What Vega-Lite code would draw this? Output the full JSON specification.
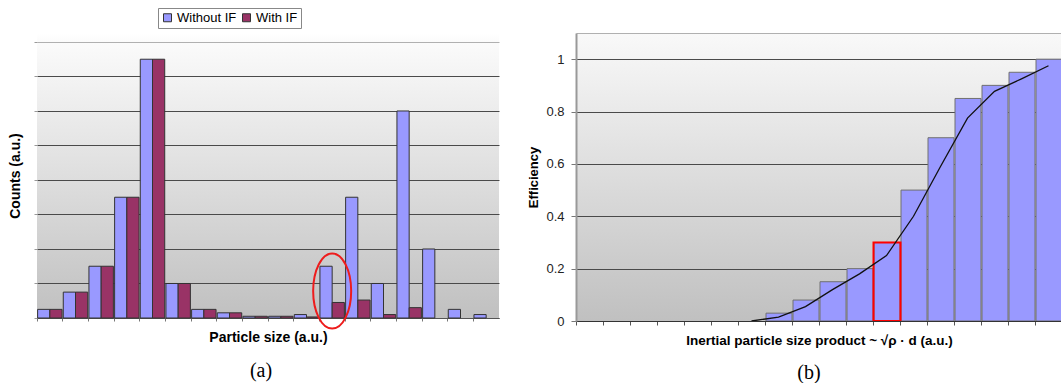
{
  "$schema": "https://vega.github.io/schema/vega-lite/v6.json",
  "padding": {"left": 8, "top": 7, "right": 0, "bottom": 0},
  "background": "white",
  "spacing": 28,
  "config": {
    "font": "Liberation Sans",
    "axis": {"titleFont": "Liberation Sans", "labelFont": "Liberation Sans", "titleFontWeight": "bold", "titleColor": "#000"}
  },
  "datasets": {
    "a": [
      {"cat": 1, "series": "Without IF", "count": 0.25}, {"cat": 1, "series": "With IF", "count": 0.25},
      {"cat": 2, "series": "Without IF", "count": 0.75}, {"cat": 2, "series": "With IF", "count": 0.75},
      {"cat": 3, "series": "Without IF", "count": 1.5}, {"cat": 3, "series": "With IF", "count": 1.5},
      {"cat": 4, "series": "Without IF", "count": 3.5}, {"cat": 4, "series": "With IF", "count": 3.5},
      {"cat": 5, "series": "Without IF", "count": 7.5}, {"cat": 5, "series": "With IF", "count": 7.5},
      {"cat": 6, "series": "Without IF", "count": 1.0}, {"cat": 6, "series": "With IF", "count": 1.0},
      {"cat": 7, "series": "Without IF", "count": 0.25}, {"cat": 7, "series": "With IF", "count": 0.25},
      {"cat": 8, "series": "Without IF", "count": 0.15}, {"cat": 8, "series": "With IF", "count": 0.15},
      {"cat": 9, "series": "Without IF", "count": 0.05}, {"cat": 9, "series": "With IF", "count": 0.05},
      {"cat": 10, "series": "Without IF", "count": 0.05}, {"cat": 10, "series": "With IF", "count": 0.05},
      {"cat": 11, "series": "Without IF", "count": 0.1}, {"cat": 11, "series": "With IF", "count": 0.03},
      {"cat": 12, "series": "Without IF", "count": 1.5}, {"cat": 12, "series": "With IF", "count": 0.45},
      {"cat": 13, "series": "Without IF", "count": 3.5}, {"cat": 13, "series": "With IF", "count": 0.52},
      {"cat": 14, "series": "Without IF", "count": 1.0}, {"cat": 14, "series": "With IF", "count": 0.1},
      {"cat": 15, "series": "Without IF", "count": 6.0}, {"cat": 15, "series": "With IF", "count": 0.3},
      {"cat": 16, "series": "Without IF", "count": 2.0},
      {"cat": 17, "series": "Without IF", "count": 0.25},
      {"cat": 18, "series": "Without IF", "count": 0.1}
    ],
    "ell": [{"cat": 12, "count": 0.78}],
    "b": [
      {"size": 7.5, "eff": 0.03}, {"size": 8.5, "eff": 0.08}, {"size": 9.5, "eff": 0.15},
      {"size": 10.5, "eff": 0.2}, {"size": 11.5, "eff": 0.3}, {"size": 12.5, "eff": 0.5},
      {"size": 13.5, "eff": 0.7}, {"size": 14.5, "eff": 0.85}, {"size": 15.5, "eff": 0.9},
      {"size": 16.5, "eff": 0.95}, {"size": 17.5, "eff": 1.0}
    ],
    "hl": [{"size": 11.5, "eff": 0.3}],
    "bline": [
      {"size": 6.5, "eff": 0.0}, {"size": 7.5, "eff": 0.015}, {"size": 8.5, "eff": 0.055},
      {"size": 9.5, "eff": 0.12}, {"size": 10.5, "eff": 0.18}, {"size": 11.5, "eff": 0.25},
      {"size": 12.5, "eff": 0.4}, {"size": 13.5, "eff": 0.59}, {"size": 14.5, "eff": 0.775},
      {"size": 15.5, "eff": 0.877}, {"size": 16.5, "eff": 0.925}, {"size": 17.5, "eff": 0.975}
    ]
  },
  "hconcat": [
    {
      "width": 462,
      "height": 285,
      "view": {
        "fill": {"gradient": "linear", "x1": 0, "y1": 0, "x2": 0, "y2": 1, "stops": [{"offset": 0, "color": "#ffffff"}, {"offset": 0.03, "color": "#fbfbfb"}, {"offset": 1, "color": "#c0c0c0"}]},
        "stroke": null
      },
      "title": {"text": "(a)", "orient": "bottom", "font": "Liberation Serif", "fontSize": 20, "fontWeight": "normal", "color": "#000", "offset": 16, "dx": -7, "anchor": "middle"},
      "encoding": {
        "x": {
          "field": "cat", "type": "ordinal",
          "scale": {"type": "band", "paddingInner": 0, "paddingOuter": 0},
          "axis": {"labels": false, "bandPosition": 0, "tickSize": 3, "tickColor": "#777", "domainColor": "#555", "title": "Particle size (a.u.)", "titleFontSize": 14, "titlePadding": 9}
        },
        "y": {
          "field": "count", "type": "quantitative",
          "scale": {"domain": [0, 8.26], "nice": false},
          "axis": {
            "values": [0, 1, 2, 3, 4, 5, 6, 7, 8], "tickCount": 20, "labels": false,
            "title": "Counts (a.u.)", "titleFontSize": 14, "titlePadding": 11,
            "grid": true,
            "gridColor": {"condition": {"test": "datum.value >= 8", "value": "#b0b0b0"}, "value": "#4a4a4a"},
            "tickColor": "#999", "tickSize": 3, "domain": false
          }
        }
      },
      "layer": [
        {
          "data": {"name": "a"},
          "mark": {"type": "bar", "stroke": "#333", "strokeWidth": 1},
          "encoding": {
            "xOffset": {"field": "series", "type": "nominal", "sort": ["Without IF", "With IF"], "scale": {"paddingInner": 0, "paddingOuter": 0.05}},
            "color": {
              "field": "series", "type": "nominal",
              "scale": {"domain": ["Without IF", "With IF"], "range": ["#9999ff", "#993366"]},
              "legend": {
                "orient": "none", "legendX": 121, "legendY": -25, "direction": "horizontal", "columns": 2, "title": null,
                "strokeColor": "#888", "fillColor": "#fff", "padding": 3,
                "labelFontSize": 13, "labelFont": "Liberation Sans", "labelColor": "#000",
                "symbolType": "square", "symbolSize": 64, "symbolStrokeColor": "#333", "symbolStrokeWidth": 1,
                "columnPadding": 3, "labelOffset": 3
              }
            }
          }
        },
        {
          "data": {"name": "ell"},
          "mark": {"type": "point", "shape": "M -0.507 0 A 0.507 1 0 1 1 0.507 0 A 0.507 1 0 1 1 -0.507 0 Z", "size": 5625, "filled": false, "stroke": "#ee1c1c", "strokeWidth": 2, "opacity": 1}
        },
        {
          "mark": {"type": "rule", "color": "#b0b0b0", "strokeWidth": 1},
          "encoding": {
            "x": {"datum": 18, "type": "ordinal", "bandPosition": 1},
            "y": {"datum": 0, "type": "quantitative"},
            "y2": {"datum": 8}
          }
        },
        {
          "mark": {"type": "rule", "color": "#999", "strokeWidth": 2},
          "encoding": {
            "x": {"datum": 1, "type": "ordinal", "bandPosition": 0},
            "y": {"datum": 0, "type": "quantitative"},
            "y2": {"datum": 8}
          }
        }
      ]
    },
    {
      "width": 486,
      "height": 288,
      "view": {
        "fill": {"gradient": "linear", "x1": 0, "y1": 0, "x2": 0, "y2": 1, "stops": [{"offset": 0, "color": "#f9f9f9"}, {"offset": 1, "color": "#c0c0c0"}]},
        "stroke": null
      },
      "title": {"text": "(b)", "orient": "bottom", "font": "Liberation Serif", "fontSize": 20, "fontWeight": "normal", "color": "#000", "offset": 16, "dx": -10, "anchor": "middle"},
      "encoding": {
        "y": {
          "field": "eff", "type": "quantitative",
          "scale": {"domain": [0, 1.1]},
          "axis": {
            "values": [0, 0.2, 0.4, 0.6, 0.8, 1, 1.1], "tickCount": 20, "format": "~g",
            "labelExpr": "datum.value > 1.05 ? '' : datum.label",
            "labelFontSize": 13, "labelColor": "#222", "labelPadding": 7,
            "tickSize": 5,
            "tickColor": {"condition": {"test": "datum.value > 1.05", "value": "transparent"}, "value": "#777"},
            "grid": true,
            "gridColor": {"condition": {"test": "datum.value > 1.05", "value": "#b0b0b0"}, "value": "#4a4a4a"},
            "domainColor": "#999", "domainWidth": 2,
            "title": "Efficiency", "titleFontSize": 13, "titlePadding": 5
          }
        }
      },
      "layer": [
        {
          "data": {"name": "b"},
          "mark": {"type": "bar", "color": "#9999ff", "stroke": "#707070", "strokeWidth": 1, "clip": true, "binSpacing": 1},
          "encoding": {
            "x": {
              "field": "size", "type": "quantitative", "bin": {"step": 1, "extent": [0, 18]},
              "scale": {"domain": [0, 17.83]},
              "axis": {"values": [0, 1, 2, 3, 4, 5, 6, 7, 8, 9, 10, 11, 12, 13, 14, 15, 16, 17], "tickCount": 40, "labels": false, "tickSize": 4, "tickColor": "#555", "domainColor": "#333", "grid": false, "title": "Inertial particle size product ~ √ρ · d  (a.u.)", "titleFontSize": 13.5, "titlePadding": 8}
            }
          }
        },
        {
          "data": {"name": "hl"},
          "mark": {"type": "bar", "fillOpacity": 0, "stroke": "#ff0000", "strokeWidth": 2, "binSpacing": 0, "clip": true},
          "encoding": {
            "x": {"field": "size", "type": "quantitative", "bin": {"step": 1, "extent": [0, 18]}}
          }
        },
        {
          "data": {"name": "bline"},
          "mark": {"type": "line", "color": "#111", "strokeWidth": 1.3, "clip": true},
          "encoding": {
            "x": {"field": "size", "type": "quantitative"}
          }
        }
      ]
    }
  ]
}
